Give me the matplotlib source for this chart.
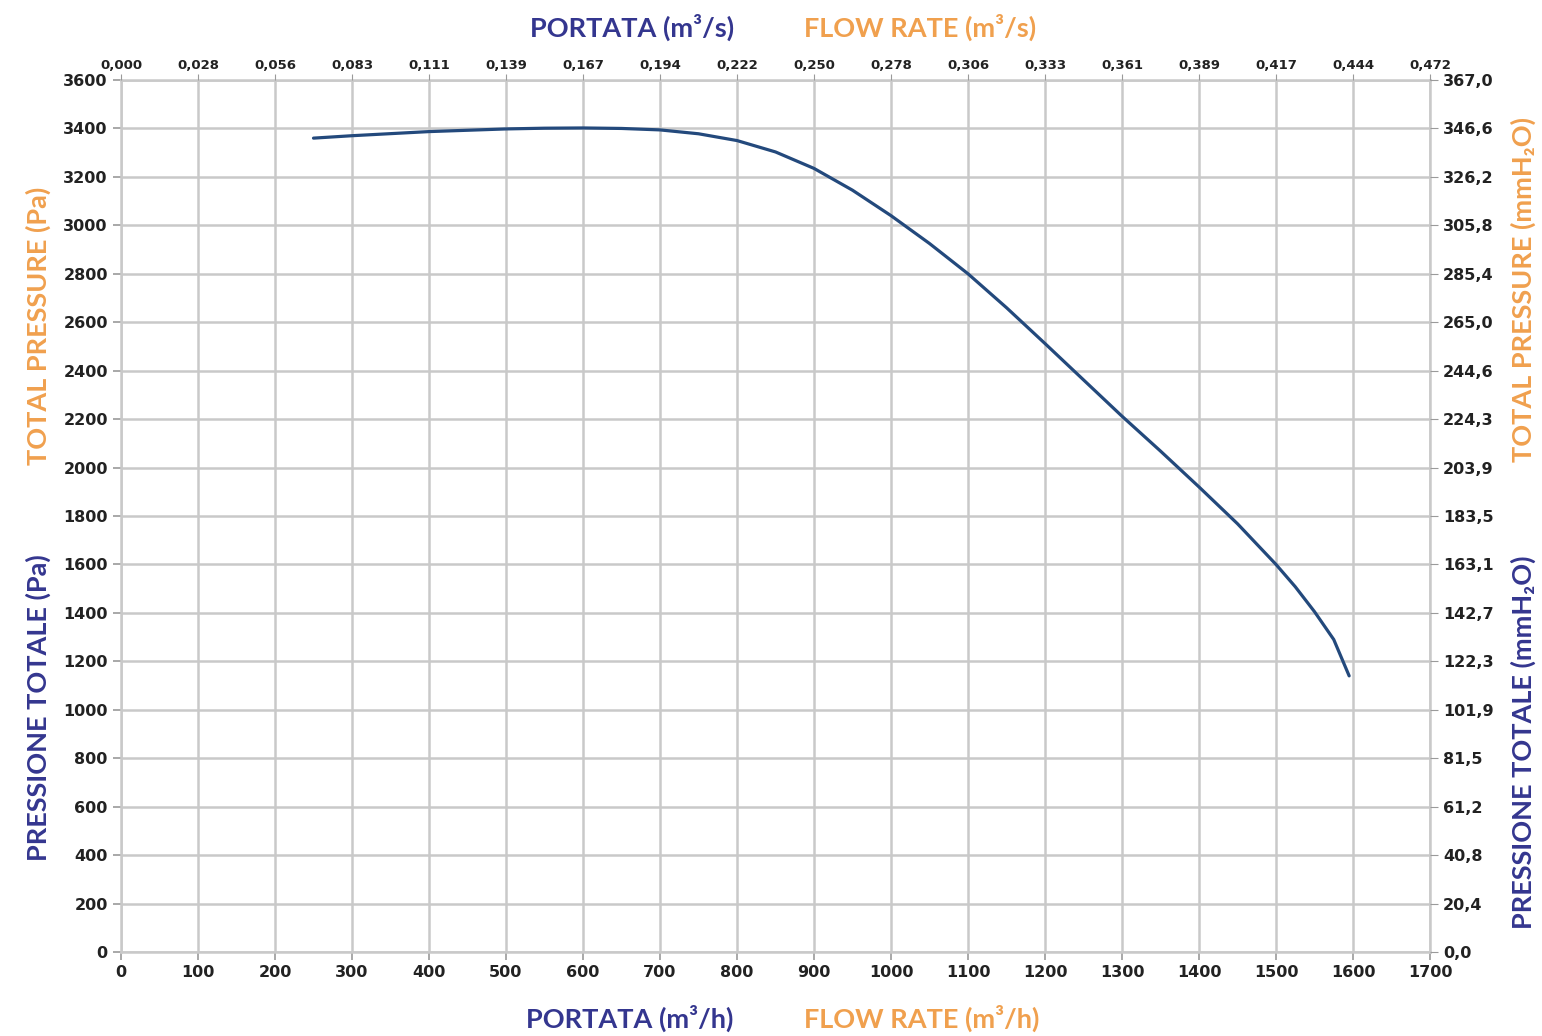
import matplotlib
matplotlib.use("Agg")
import matplotlib.pyplot as plt

# ---- data ----
flow_m3h = [250, 300, 400, 500, 550, 600, 650, 700, 750, 800, 850, 900, 950, 1000, 1050, 1100,
            1150, 1200, 1250, 1300, 1350, 1400, 1450, 1500, 1525, 1550, 1575, 1595]
pressure_pa = [3360, 3370, 3387, 3398, 3401, 3402, 3400, 3394, 3378, 3350, 3303, 3235, 3145, 3040,
               2925, 2800, 2660, 2512, 2362, 2212, 2068, 1920, 1768, 1600, 1508, 1405, 1290, 1140]

x_ticks = list(range(0, 1701, 100))
y_ticks = list(range(0, 3601, 200))
top_labels = ["0,000", "0,028", "0,056", "0,083", "0,111", "0,139", "0,167", "0,194", "0,222",
              "0,250", "0,278", "0,306", "0,333", "0,361", "0,389", "0,417", "0,444", "0,472"]
right_labels = ["0,0", "20,4", "40,8", "61,2", "81,5", "101,9", "122,3", "142,7", "163,1",
                "183,5", "203,9", "224,3", "244,6", "265,0", "285,4", "305,8", "326,2", "346,6", "367,0"]

NAVY = "#34368f"
ORANGE = "#f0a04e"
CURVE = "#23497c"
GRID = "#c9c9c9"

fig = plt.figure(figsize=(15.42, 10.36), dpi=100)
ax = fig.add_axes([121/1542, 1-952/1036, (1430-121)/1542, (952-80)/1036])

ax.plot(flow_m3h, pressure_pa, color=CURVE, lw=2.3, solid_capstyle="round",
        solid_joinstyle="round", zorder=3)

ax.set_xlim(0, 1700)
ax.set_ylim(0, 3600)
ax.set_xticks(x_ticks)
ax.set_yticks(y_ticks)
ax.grid(True, color=GRID, lw=1.8)
ax.set_axisbelow(True)
for s in ax.spines.values():
    s.set_color(GRID)
    s.set_linewidth(1.8)
ax.tick_params(axis="both", colors="#9a9a9a", labelcolor="#222222", length=6, width=1.2,
               labelsize=11.5)
for lbl in ax.get_xticklabels() + ax.get_yticklabels():
    lbl.set_fontweight("bold")

# top axis
axt = ax.twiny()
axt.set_xlim(ax.get_xlim())
axt.set_xticks(x_ticks)
axt.set_xticklabels(top_labels, fontsize=9.5, fontweight="bold", color="#222222")
axt.tick_params(axis="x", length=4, colors="#9a9a9a", labelcolor="#222222", pad=2)
for s in axt.spines.values():
    s.set_visible(False)

# right axis
axr = ax.twinx()
axr.set_ylim(ax.get_ylim())
axr.set_yticks(y_ticks)
axr.set_yticklabels(right_labels, fontsize=11.5, fontweight="bold", color="#222222")
axr.tick_params(axis="y", length=6, colors="#9a9a9a", labelcolor="#222222")
for s in axr.spines.values():
    s.set_visible(False)

fs = 19.5
def ft(x, y, s, c, **kw):
    fig.text(x/1542, 1-y/1036, s, color=c, fontsize=fs, ha="center", va="center",
             family=["Lato", "DejaVu Sans"], fontweight="bold", **kw)

ft(632, 27, "PORTATA (m³/s)", NAVY)
ft(920, 27, "FLOW RATE (m³/s)", ORANGE)
ft(630, 1018, "PORTATA (m³/h)", NAVY)
ft(922, 1018, "FLOW RATE (m³/h)", ORANGE)
ft(38, 326, "TOTAL PRESSURE (Pa)", ORANGE, rotation=90)
ft(38, 708, "PRESSIONE TOTALE (Pa)", NAVY, rotation=90)
ft(1523, 290, "TOTAL PRESSURE (mmH₂O)", ORANGE, rotation=90)
ft(1523, 742, "PRESSIONE TOTALE (mmH₂O)", NAVY, rotation=90)

fig.savefig("out.png", dpi=100, facecolor="white")
